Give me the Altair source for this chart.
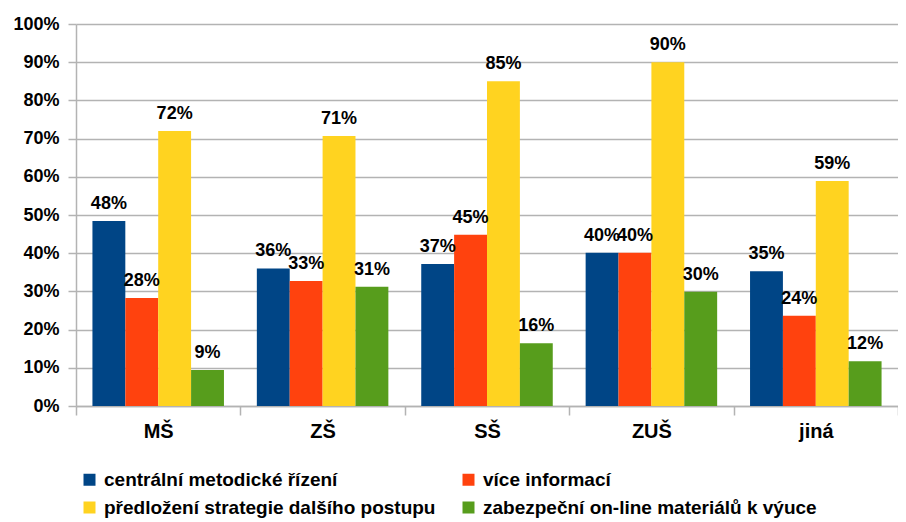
import altair as alt
import pandas as pd

categories = ["MŠ", "ZŠ", "SŠ", "ZUŠ", "jiná"]
series = [
    "centrální metodické řízení",
    "více informací",
    "předložení strategie dalšího postupu",
    "zabezpeční on-line materiálů k výuce",
]
central = [0.484, 0.360, 0.372, 0.401, 0.353]
more_info = [0.283, 0.327, 0.448, 0.401, 0.236]
strategy = [0.720, 0.707, 0.850, 0.900, 0.589]
online = [0.094, 0.312, 0.164, 0.299, 0.117]
colors = ["#004586", "#ff420e", "#ffd320", "#579d1c"]
y_ticks = [0, 0.1, 0.2, 0.3, 0.4, 0.5, 0.6, 0.7, 0.8, 0.9, 1.0]

rows = []
for s, vals in zip(series, [central, more_info, strategy, online]):
    for c, v in zip(categories, vals):
        rows.append({"cat": c, "series": s, "value": v})
df = pd.DataFrame(rows)

# legend fills column by column: order entries so rows read A B / C D
legend_order = [series[0], series[2], series[1], series[3]]
legend_colors = [colors[0], colors[2], colors[1], colors[3]]

FONT = "Liberation Sans"

x = alt.X(
    "cat:N",
    sort=categories,
    title=None,
    scale=alt.Scale(paddingInner=0, paddingOuter=0),
    axis=alt.Axis(
        labelAngle=0,
        labelFont=FONT,
        labelFontSize=20,
        labelFontWeight="bold",
        labelColor="#000000",
        labelPadding=6,
        tickBand="extent",
        tickSize=9,
        tickColor="#b3b3b3",
        tickWidth=1.5,
        domainColor="#b3b3b3",
        domainWidth=1.5,
        grid=False,
    ),
)
xo = alt.XOffset(
    "series:N",
    sort=series,
    scale=alt.Scale(paddingInner=0, paddingOuter=0.5),
)
y = alt.Y(
    "value:Q",
    title=None,
    scale=alt.Scale(domain=[0, 1], nice=False),
    axis=alt.Axis(
        values=y_ticks,
        format=".0%",
        labelFont=FONT,
        labelFontSize=18,
        labelFontWeight="bold",
        labelColor="#000000",
        labelPadding=9,
        tickSize=8,
        tickColor="#b3b3b3",
        tickWidth=1.5,
        domainColor="#b3b3b3",
        domainWidth=1.5,
        gridColor="#b3b3b3",
        gridWidth=1.5,
    ),
)

color = alt.Color(
    "series:N",
    scale=alt.Scale(domain=legend_order, range=legend_colors),
    legend=alt.Legend(
        title=None,
        orient="none",
        legendX=4,
        legendY=446,
        columns=2,
        columnPadding=23,
        rowPadding=8,
        symbolType="square",
        symbolSize=144,
        symbolStrokeWidth=0,
        labelFont=FONT,
        labelFontSize=19,
        labelFontWeight="bold",
        labelColor="#000000",
        labelLimit=500,
        labelOffset=5,
    ),
)

base = alt.Chart(df)
bars = base.mark_bar(stroke=None).encode(x=x, xOffset=xo, y=y, color=color)
labels = base.mark_text(
    font=FONT,
    fontSize=18,
    fontWeight="bold",
    color="#000000",
    baseline="alphabetic",
    dy=-12,
).encode(x=x, xOffset=xo, y=y, text=alt.Text("value:Q", format=".0%"))

chart = (
    alt.layer(bars, labels)
    .properties(
        width=822,
        height=382,
        autosize=alt.AutoSizeParams(type="none"),
        padding={"left": 68, "top": 16, "right": 0, "bottom": 114},
        background="#ffffff",
    )
    .configure_view(stroke=None)
)

chart.save("out.html", embed_options={"renderer": "svg", "actions": False})
